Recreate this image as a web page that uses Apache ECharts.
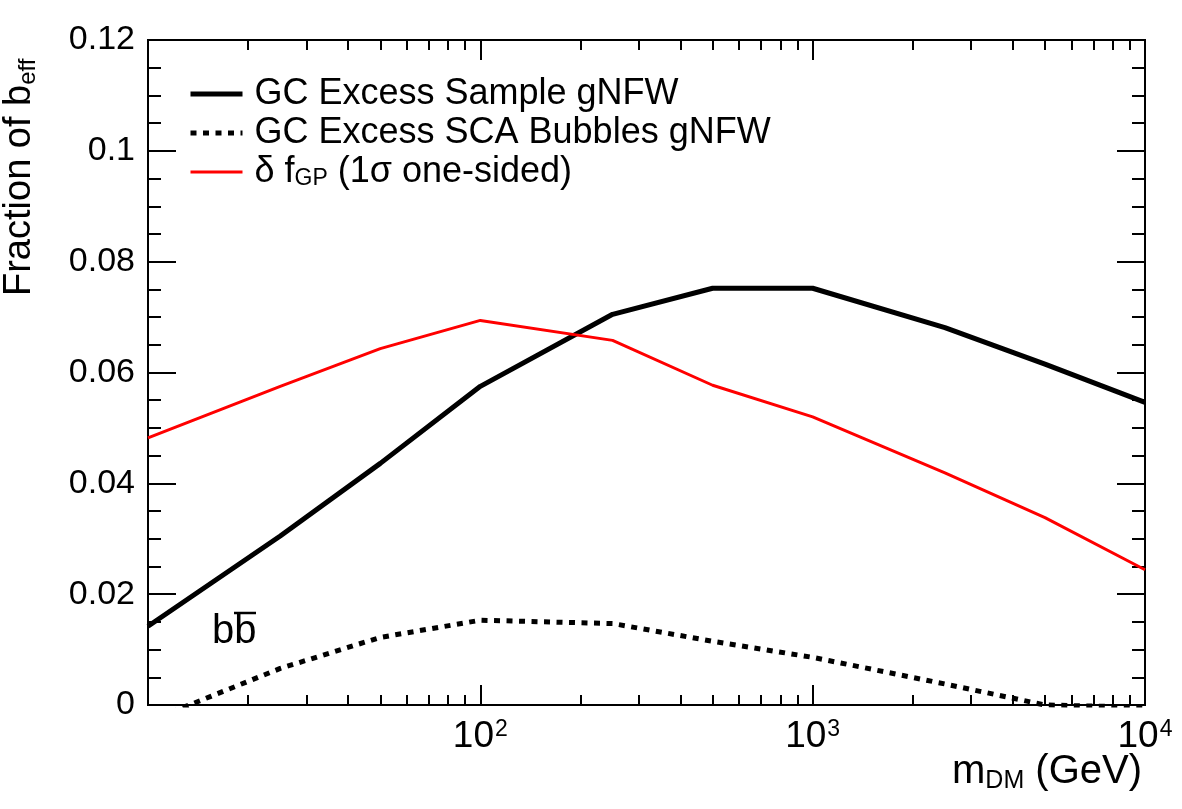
<!DOCTYPE html>
<html>
<head>
<meta charset="utf-8">
<script src="https://cdn.jsdelivr.net/npm/echarts@6/dist/echarts.min.js"></script>
<style>
  html, body { margin: 0; padding: 0; background: #fff; }
  #chart { width: 1182px; height: 809px; }
</style>
</head>
<body>
<div id="chart"></div>
<script>
// dark matter masses (GeV)
const masses = [10, 25, 50, 100, 250, 500, 1000, 2500, 5000, 10000]
// fraction of b_eff
const sampleGNFW = [0.0142, 0.0305, 0.0436, 0.0575, 0.0705, 0.0752, 0.0752, 0.0681, 0.0615, 0.0546]
const bubblesGNFW = [-0.0030, 0.0066, 0.0122, 0.0153, 0.0147, 0.0115, 0.0086, 0.0038, 0.0000, -0.0004]
const deltaFGP = [0.0482, 0.0575, 0.0643, 0.0694, 0.0658, 0.0577, 0.0520, 0.0419, 0.0338, 0.0244]
const minorX = [20, 30, 40, 50, 60, 70, 80, 90, 200, 300, 400, 500, 600, 700, 800, 900,
  2000, 3000, 4000, 5000, 6000, 7000, 8000, 9000]

const font = 'Liberation Sans, Arial, Helvetica, sans-serif'
const pairs = arr => masses.map((m, i) => [m, arr[i]])

let chart = echarts.init(document.getElementById('chart'))

function logAxis(position, ticks, len, showLabel) {
  return {
    type: 'log',
    logBase: 10,
    min: 10,
    max: 10000,
    position: position,
    axisLine: { show: false },
    splitLine: { show: false },
    axisTick: {
      show: true,
      inside: true,
      length: len,
      customValues: ticks,
      lineStyle: { color: '#000', width: 2 }
    },
    axisLabel: {
      show: showLabel,
      margin: 13,
      customValues: showLabel ? [100, 1000, 10000] : undefined,
      formatter: function (v) {
        let e = Math.round(Math.log10(v))
        return '{n|10}{s|' + e + '}'
      },
      rich: {
        n: { fontFamily: font, fontSize: 37, color: '#000' },
        s: { fontFamily: font, fontSize: 23, color: '#000', verticalAlign: 'top', padding: [0, 0, 15, 1] }
      }
    }
  }
}

function linAxis(position, showLabel) {
  return {
    type: 'value',
    min: 0,
    max: 0.12,
    interval: 0.02,
    position: position,
    axisLine: { show: false },
    splitLine: { show: false },
    axisTick: { show: true, inside: true, length: 28, lineStyle: { color: '#000', width: 2 } },
    minorTick: { show: true, splitNumber: 4, length: 13, lineStyle: { color: '#000', width: 2 } },
    axisLabel: {
      show: showLabel,
      margin: 13,
      color: '#000',
      fontFamily: font,
      fontSize: 34,
      formatter: function (v) { return String(+v.toFixed(2)) }
    }
  }
}

let option = {
  animation: false,
  backgroundColor: '#fff',
  grid: {
    left: 148, top: 40, right: 37, bottom: 104,
    show: true, borderColor: '#000', borderWidth: 2, backgroundColor: 'transparent'
  },
  xAxis: [
    logAxis('bottom', [10, 100, 1000, 10000], 20, true),
    logAxis('bottom', minorX, 10, false),
    logAxis('top', [10, 100, 1000, 10000], 20, false),
    logAxis('top', minorX, 10, false)
  ],
  yAxis: [linAxis('left', true), linAxis('right', false)],
  legend: {
    orient: 'vertical',
    left: 183,
    top: 71,
    itemWidth: 52,
    itemHeight: 14,
    itemGap: 3,
    itemStyle: { opacity: 0 },
    data: [
      { name: 'sample', lineStyle: { width: 5, color: '#000' } },
      { name: 'bubbles', lineStyle: { width: 5, color: '#000', type: [6, 6.5] } },
      { name: 'gp', lineStyle: { width: 3, color: '#ff0000' } }
    ],
    formatter: function (name) {
      if (name === 'sample') return 'GC Excess Sample gNFW'
      if (name === 'bubbles') return 'GC Excess SCA Bubbles gNFW'
      return 'δ f{sub|GP} (1σ one-sided)'
    },
    textStyle: {
      fontFamily: font,
      fontSize: 36,
      color: '#000',
      lineHeight: 36,
      padding: [0, 0, 0, 7],
      rich: {
        sub: { fontFamily: font, fontSize: 23, color: '#000', verticalAlign: 'bottom', padding: [18, 0, 0, 0] }
      }
    }
  },
  series: [
    {
      name: 'sample', type: 'line', data: pairs(sampleGNFW),
      symbol: 'none', lineStyle: { color: '#000', width: 5 }, itemStyle: { color: '#000' }
    },
    {
      name: 'bubbles', type: 'line', data: pairs(bubblesGNFW),
      symbol: 'none', lineStyle: { color: '#000', width: 5, type: [6, 6.5] }, itemStyle: { color: '#000' }
    },
    {
      name: 'gp', type: 'line', data: pairs(deltaFGP),
      symbol: 'none', lineStyle: { color: '#ff0000', width: 3 }, itemStyle: { color: '#ff0000' }
    }
  ],
  graphic: [
    {
      type: 'text',
      x: 40, y: 296, rotation: Math.PI / 2,
      style: {
        text: 'Fraction of b{sub|eff}',
        font: '38px ' + font,
        fill: '#000',
        textAlign: 'left',
        textVerticalAlign: 'bottom',
        rich: { sub: { fontFamily: font, fontSize: 24, fill: '#000', verticalAlign: 'bottom', padding: [16, 0, 0, 0] } }
      }
    },
    {
      type: 'text',
      right: 40, top: 752,
      style: {
        text: 'm{sub|DM} (GeV)',
        font: '40px ' + font,
        fill: '#000',
        rich: { sub: { fontFamily: font, fontSize: 25, fill: '#000', verticalAlign: 'bottom', padding: [18, 0, 0, 0] } }
      }
    },
    {
      type: 'text',
      left: 212, top: 612,
      style: { text: 'bb', font: '40px ' + font, fill: '#000' }
    },
    {
      type: 'line',
      shape: { x1: 234, y1: 613, x2: 256, y2: 613 },
      style: { stroke: '#000', lineWidth: 2.5 }
    }
  ]
}

option && chart.setOption(option)
window.addEventListener('resize', function () {
  chart.resize()
})
</script>
</body>
</html>
